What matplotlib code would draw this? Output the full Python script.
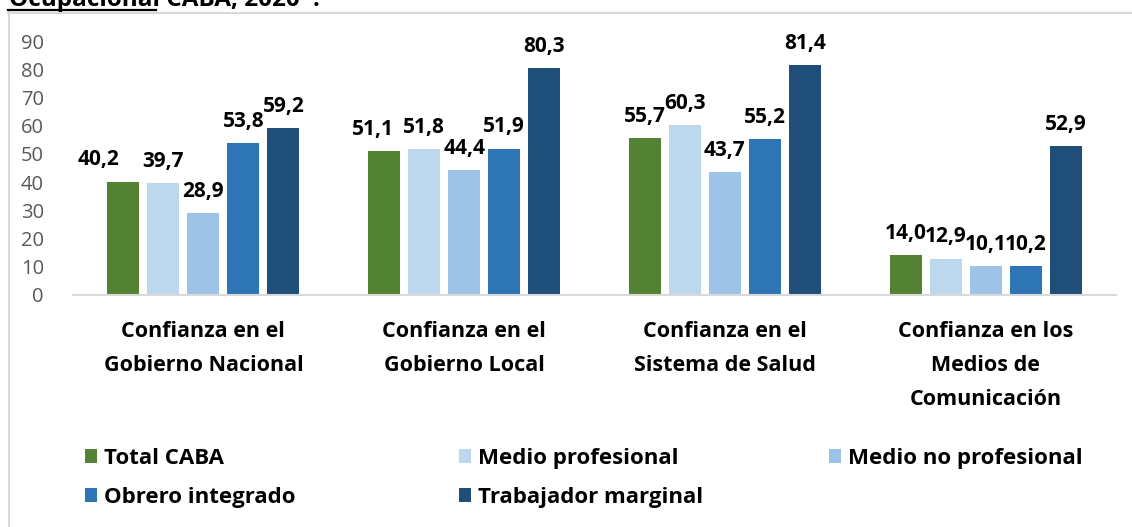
import matplotlib
matplotlib.use("Agg")
import matplotlib.pyplot as plt
from matplotlib.lines import Line2D
import numpy as np

plt.rcParams['font.family'] = ['Open Sans', 'DejaVu Sans']

categories = ["Confianza en el\nGobierno Nacional",
              "Confianza en el\nGobierno Local",
              "Confianza en el\nSistema de Salud",
              "Confianza en los\nMedios de\nComunicación"]
series_names = ["Total CABA", "Medio profesional", "Medio no profesional",
                "Obrero integrado", "Trabajador marginal"]
total_caba = [40.2, 51.1, 55.7, 14.0]
medio_profesional = [39.7, 51.8, 60.3, 12.9]
medio_no_profesional = [28.9, 44.4, 43.7, 10.1]
obrero_integrado = [53.8, 51.9, 55.2, 10.2]
trabajador_marginal = [59.2, 80.3, 81.4, 52.9]
series_values = [total_caba, medio_profesional, medio_no_profesional,
                 obrero_integrado, trabajador_marginal]
colors = ["#548235", "#BDD7EE", "#9DC3E6", "#2E75B6", "#1F4E79"]
yticks = [0, 10, 20, 30, 40, 50, 60, 70, 80, 90]

# manual label nudges (points), as in the original chart
label_nudge = {(0, 0): -18, (0, 1): -8}

W, H = 1132, 527
fig = plt.figure(figsize=(W / 100, H / 100), dpi=100)
ax = fig.add_axes([73 / W, 1 - 295 / H, (1116 - 73) / W, (295 - 41) / H])

x = np.arange(len(categories))
step = 0.1534
width = 0.1227
handles = []
for i, (name, vals, c) in enumerate(zip(series_names, series_values, colors)):
    pos = x + (i - 2) * step
    b = ax.bar(pos, vals, width=width, color=c, label=name, zorder=2)
    handles.append(b)
    for j, (px, v) in enumerate(zip(pos, vals)):
        dx = label_nudge.get((i, j), 0)
        ax.annotate(f"{v:.1f}".replace(".", ","), (px, v), xytext=(dx, 8),
                    textcoords="offset points", ha="center", va="bottom",
                    fontsize=15, fontweight="bold", color="black")

ax.set_xlim(-0.5, len(categories) - 0.5)
ax.set_ylim(0, 90)
ax.set_yticks(yticks)
ax.set_yticklabels([str(t) for t in yticks], fontsize=14.5, color="#595959")
ax.set_xticks(x)
ax.set_xticklabels(categories, fontsize=15.5, fontweight="bold", color="black",
                   linespacing=1.8)
ax.tick_params(axis="both", length=0)
ax.tick_params(axis="y", pad=21)
ax.tick_params(axis="x", pad=19)
for s in ["top", "right", "left"]:
    ax.spines[s].set_visible(False)
ax.spines["bottom"].set_color("#D9D9D9")
ax.spines["bottom"].set_linewidth(1.5)

# legend columns
legend_cols = [([0, 3], 85), ([1, 4], 459), ([2], 829)]
for idxs, xpx in legend_cols:
    leg = fig.legend([handles[k] for k in idxs], [series_names[k] for k in idxs],
                     loc="upper left", bbox_to_anchor=(xpx / W, 1 - 448 / H),
                     frameon=False, prop={"weight": "bold", "size": 16},
                     handlelength=0.55, handleheight=0.55, handletextpad=0.3,
                     labelspacing=0.8, borderaxespad=0, borderpad=0)

# chart frame (top and left edges visible)
fig.add_artist(Line2D([8 / W, 1.0], [1 - 12.5 / H, 1 - 12.5 / H], color="#D9D9D9", lw=1.5))
fig.add_artist(Line2D([8.5 / W, 8.5 / W], [0, 1 - 12 / H], color="#D9D9D9", lw=1.5))

# cut-off title
fig.text(9 / W, 1 - 6.5 / H, "Ocupacional CABA, 2020*.", fontsize=17.5,
         fontweight="bold", ha="left", va="baseline", color="black")
fig.add_artist(Line2D([8 / W, 156 / W], [1 - 9.5 / H, 1 - 9.5 / H], color="black", lw=1.6))

fig.savefig("out.png", dpi=100)
